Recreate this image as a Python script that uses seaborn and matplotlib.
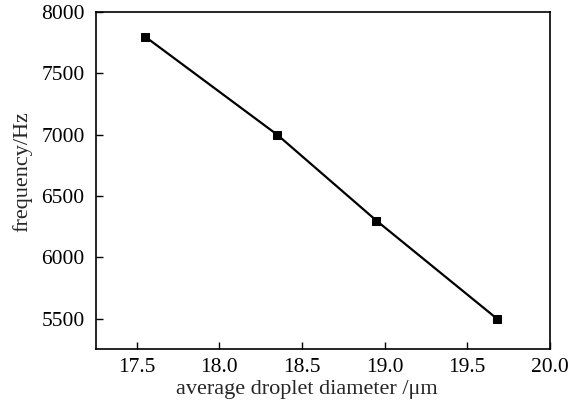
import pandas as pd
import seaborn as sns
import matplotlib.pyplot as plt

diameter = [17.55, 18.35, 18.95, 19.68]
frequency = [7800, 7000, 6300, 5500]
x_ticks = [17.5, 18.0, 18.5, 19.0, 19.5, 20.0]
y_ticks = [5500, 6000, 6500, 7000, 7500, 8000]

sns.set_style("white")
plt.rcParams["font.family"] = ["Liberation Serif", "DejaVu Serif"]

df = pd.DataFrame({"diameter": diameter, "frequency": frequency})

fig = plt.figure(figsize=(5.83, 4.05), dpi=100)
ax = fig.add_axes([0.164, 0.1375, 0.779, 0.8325])

sns.lineplot(data=df, x="diameter", y="frequency", ax=ax, color="black",
             linewidth=1.6, marker="s", markersize=6, markeredgecolor="black",
             markerfacecolor="black")

ax.set_xlim(17.25, 20.0)
ax.set_ylim(5250, 8000)
ax.set_xticks(x_ticks)
ax.set_xticklabels([f"{v:.1f}" for v in x_ticks])
ax.set_yticks(y_ticks)
ax.set_yticklabels([str(v) for v in y_ticks])
ax.tick_params(direction="in", length=5, width=1, labelsize=15.5, colors="black",
               bottom=True, left=True, top=False, right=False, pad=8)
ax.tick_params(axis="x", pad=6)
for s in ax.spines.values():
    s.set_color("black")
    s.set_linewidth(1.2)

ax.set_xlabel("average droplet diameter /\u03bcm", fontsize=16)
ax.set_ylabel("frequency/Hz", fontsize=16, labelpad=6)
ax.xaxis.set_label_coords(0.464, -0.092)
ax.yaxis.label.set_y(0.527)

fig.savefig("out.png", dpi=100)
